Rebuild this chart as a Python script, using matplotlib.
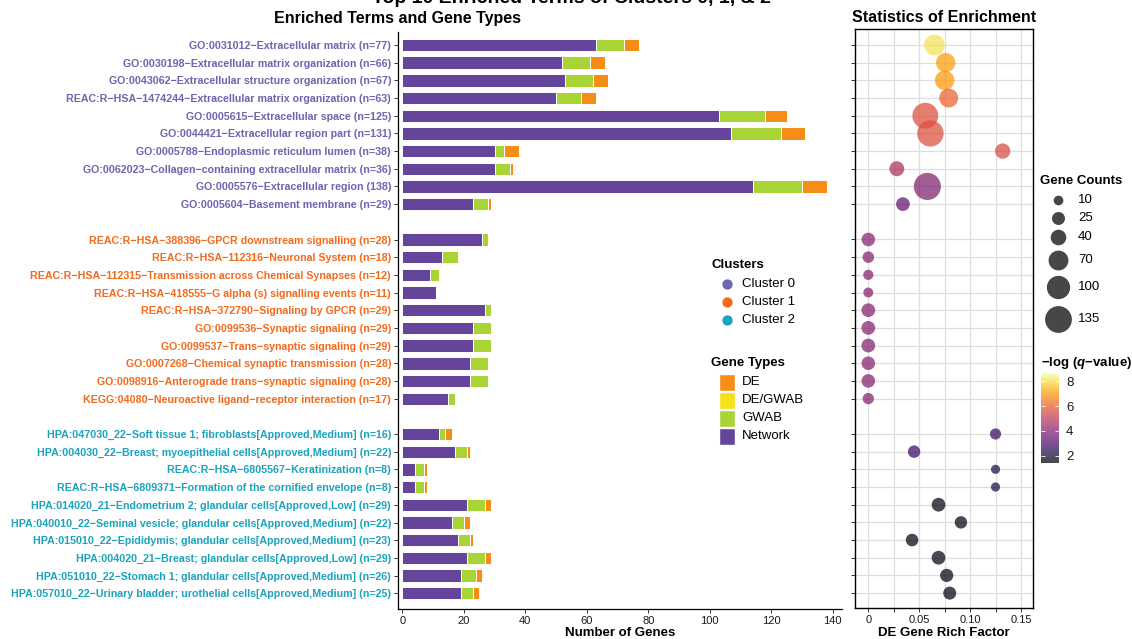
import matplotlib
matplotlib.use('Agg')
import matplotlib.pyplot as plt
import numpy as np
from matplotlib.colors import ListedColormap, Normalize
from matplotlib.cm import ScalarMappable
from matplotlib.patches import Rectangle

plt.rcParams['font.family'] = ['Liberation Sans', 'DejaVu Sans']
plt.rcParams['mathtext.fontset'] = 'custom'
plt.rcParams['mathtext.it'] = 'Liberation Sans:italic:bold'
plt.rcParams['mathtext.rm'] = 'Liberation Sans:bold'

# ---- data ----
terms0 = ['GO:0031012−Extracellular matrix (n=77)',
          'GO:0030198−Extracellular matrix organization (n=66)',
          'GO:0043062−Extracellular structure organization (n=67)',
          'REAC:R−HSA−1474244−Extracellular matrix organization (n=63)',
          'GO:0005615−Extracellular space (n=125)',
          'GO:0044421−Extracellular region part (n=131)',
          'GO:0005788−Endoplasmic reticulum lumen (n=38)',
          'GO:0062023−Collagen−containing extracellular matrix (n=36)',
          'GO:0005576−Extracellular region (138)',
          'GO:0005604−Basement membrane (n=29)']
terms1 = ['REAC:R−HSA−388396−GPCR downstream signalling (n=28)',
          'REAC:R−HSA−112316−Neuronal System (n=18)',
          'REAC:R−HSA−112315−Transmission across Chemical Synapses (n=12)',
          'REAC:R−HSA−418555−G alpha (s) signalling events (n=11)',
          'REAC:R−HSA−372790−Signaling by GPCR (n=29)',
          'GO:0099536−Synaptic signaling (n=29)',
          'GO:0099537−Trans−synaptic signaling (n=29)',
          'GO:0007268−Chemical synaptic transmission (n=28)',
          'GO:0098916−Anterograde trans−synaptic signaling (n=28)',
          'KEGG:04080−Neuroactive ligand−receptor interaction (n=17)']
terms2 = ['HPA:047030_22−Soft tissue 1; fibroblasts[Approved,Medium] (n=16)',
          'HPA:004030_22−Breast; myoepithelial cells[Approved,Medium] (n=22)',
          'REAC:R−HSA−6805567−Keratinization (n=8)',
          'REAC:R−HSA−6809371−Formation of the cornified envelope (n=8)',
          'HPA:014020_21−Endometrium 2; glandular cells[Approved,Low] (n=29)',
          'HPA:040010_22−Seminal vesicle; glandular cells[Approved,Medium] (n=22)',
          'HPA:015010_22−Epididymis; glandular cells[Approved,Medium] (n=23)',
          'HPA:004020_21−Breast; glandular cells[Approved,Low] (n=29)',
          'HPA:051010_22−Stomach 1; glandular cells[Approved,Medium] (n=26)',
          'HPA:057010_22−Urinary bladder; urothelial cells[Approved,Medium] (n=25)']

network0 = [63, 52, 53, 50, 103, 107, 30, 30, 114, 23]
gwab0 = [9, 9, 9, 8, 15, 16, 3, 5, 16, 5]
degwab0 = [0, 0, 0, 0, 0, 0, 0, 0, 0, 0]
de0 = [5, 5, 5, 5, 7, 8, 5, 1, 8, 1]

network1 = [26, 13, 9, 11, 27, 23, 23, 22, 22, 15]
gwab1 = [2, 5, 3, 0, 2, 6, 6, 6, 6, 2]
degwab1 = [0, 0, 0, 0, 0, 0, 0, 0, 0, 0]
de1 = [0, 0, 0, 0, 0, 0, 0, 0, 0, 0]

network2 = [12, 17, 4, 4, 21, 16, 18, 21, 19, 19]
gwab2 = [2, 4, 3, 3, 6, 4, 4, 6, 5, 4]
degwab2 = [0, 0, 0, 0, 0, 0, 0, 0, 0, 0]
de2 = [2, 1, 1, 1, 2, 2, 1, 2, 2, 2]

counts0 = [77, 66, 67, 63, 125, 131, 38, 36, 138, 29]
counts1 = [28, 18, 12, 11, 29, 29, 29, 28, 28, 17]
counts2 = [16, 22, 8, 8, 29, 22, 23, 29, 26, 25]

rich0 = [0.065, 0.076, 0.075, 0.079, 0.056, 0.061, 0.132, 0.028, 0.058, 0.034]
rich1 = [0, 0, 0, 0, 0, 0, 0, 0, 0, 0]
rich2 = [0.125, 0.045, 0.125, 0.125, 0.069, 0.091, 0.043, 0.069, 0.077, 0.080]

logq0 = [8.1, 7.1, 7.0, 6.1, 5.7, 5.7, 5.6, 4.7, 3.9, 3.4]
logq1 = [4.0, 4.0, 4.0, 4.0, 4.0, 4.0, 4.0, 4.0, 4.0, 4.0]
logq2 = [2.7, 2.7, 2.3, 2.3, 1.6, 1.6, 1.6, 1.6, 1.6, 1.6]

clusters = ['Cluster 0', 'Cluster 1', 'Cluster 2']
gene_types = ['DE', 'DE/GWAB', 'GWAB', 'Network']
size_breaks = [10, 25, 40, 70, 100, 135]
cbar_ticks = [2, 4, 6, 8]

# ---- styling ----
cluster_cols = ['#6b66b0', '#f46a1c', '#1aa3be']
type_cols = {'DE': '#f68d17', 'DE/GWAB': '#f5e11a', 'GWAB': '#a8d435', 'Network': '#65459b'}
W, H = 1132, 639


def fx(px):
    return px / W


def fy(py):
    return 1 - py / H


def dot_size(n):
    return 2.07 * (11 + 1.25 * np.asarray(n, dtype=float))


fig = plt.figure(figsize=(11.32, 6.39), dpi=100)

terms = terms0 + terms1 + terms2
network = network0 + network1 + network2
gwab = gwab0 + gwab1 + gwab2
degwab = degwab0 + degwab1 + degwab2
de = de0 + de1 + de2
counts = counts0 + counts1 + counts2
rich = rich0 + rich1 + rich2
logq = logq0 + logq1 + logq2
pos = [k * 11 + i for k in range(3) for i in range(10)]
lab_cols = [cluster_cols[k] for k in range(3) for i in range(10)]

# bars
ax = fig.add_axes([fx(398), fy(609), fx(842) - fx(398), fy(32) - fy(609)])
left = np.zeros(len(pos))
for name, vals in [('Network', network), ('GWAB', gwab), ('DE/GWAB', degwab), ('DE', de)]:
    vals = np.array(vals, dtype=float)
    m = vals > 0
    ax.barh(np.array(pos)[m], vals[m], left=left[m], height=0.7,
            color=type_cols[name], edgecolor='white', linewidth=0.7)
    left = left + vals

ax.set_xlim(-1.4, 143)
ax.set_ylim(31.89, -0.735)
ax.set_yticks(pos)
ax.set_yticklabels(terms, fontsize=7.7, fontweight='bold')
for t, c in zip(ax.get_yticklabels(), lab_cols):
    t.set_color(c)
ax.set_xticks(np.arange(0, 141, 20))
ax.tick_params(axis='x', labelsize=8, length=3, width=0.7, color='#333333', labelcolor='#1a1a1a', pad=2)
ax.tick_params(axis='y', length=3, width=0.7, color='#333333', pad=2)
ax.spines['top'].set_visible(False)
ax.spines['right'].set_visible(False)
ax.spines['left'].set_linewidth(0.9)
ax.spines['bottom'].set_linewidth(0.9)
ax.set_xlabel('Number of Genes', fontsize=9.5, fontweight='bold', labelpad=1)

# dots
ax2 = fig.add_axes([fx(855.3), fy(608.3), fx(1033.3) - fx(855.3), fy(29.3) - fy(608.3)])
norm = Normalize(1.4, 8.67)
ax2.scatter(rich, pos, s=dot_size(counts), c=logq, cmap='inferno', norm=norm,
            alpha=0.72, linewidths=0, zorder=3)
ax2.set_xlim(-0.01277, 0.1621)
ax2.set_ylim(31.86, -0.887)
ax2.set_xticks([0, 0.025, 0.05, 0.075, 0.10, 0.125, 0.15])
ax2.set_xticklabels(['0', '', '0.05', '', '0.10', '', '0.15'])
ax2.set_yticks(pos)
ax2.set_yticklabels([])
ax2.grid(True, color='#dedede', linewidth=0.9)
ax2.set_axisbelow(True)
ax2.tick_params(axis='x', labelsize=8, length=3, width=0.7, color='#333333', labelcolor='#1a1a1a', pad=2)
ax2.tick_params(axis='y', length=3, width=0.7, color='#333333')
for s in ax2.spines.values():
    s.set_linewidth(1.0)
ax2.set_xlabel('DE Gene Rich Factor', fontsize=9.5, fontweight='bold', labelpad=1)

# titles
fig.text(fx(571), fy(3), 'Top 10 Enriched Terms of Clusters 0, 1, & 2', fontsize=14,
         fontweight='bold', ha='center', va='baseline')
fig.text(fx(397), fy(18), 'Enriched Terms and Gene Types', fontsize=11.5,
         fontweight='bold', ha='center', va='center')
fig.text(fx(944), fy(17), 'Statistics of Enrichment', fontsize=11.5,
         fontweight='bold', ha='center', va='center')

# overlay for legends (pixel coordinates)
ov = fig.add_axes([0, 0, 1, 1], zorder=5)
ov.set_xlim(0, W)
ov.set_ylim(H, 0)
ov.axis('off')

ov.text(711, 265, 'Clusters', fontsize=9.5, fontweight='bold', va='center')
for i, (c, col) in enumerate(zip(clusters, cluster_cols)):
    y = 284 + 18 * i
    ov.scatter([727], [y], s=55, color=col, linewidths=0)
    ov.text(742, y, c, fontsize=9.5, va='center')

ov.text(711, 363, 'Gene Types', fontsize=9.5, fontweight='bold', va='center')
for i, g in enumerate(gene_types):
    y = 382 + 18 * i
    ov.add_patch(Rectangle((719, y - 8.5), 16, 17, facecolor=type_cols[g],
                           edgecolor='white', linewidth=1))
    ov.text(742, y, g, fontsize=9.5, va='center')

ov.text(1040, 181, 'Gene Counts', fontsize=9.5, fontweight='bold', va='center')
size_y = [200, 218, 237, 260, 287, 319]
for v, y in zip(size_breaks, size_y):
    ov.scatter([1058], [y], s=dot_size([v]), color='#333333', alpha=0.9, linewidths=0)
    ov.text(1078, y, str(v), fontsize=9.5, va='center')

ov.text(1041, 363, '−log ($\\mathit{q}$−value)', fontsize=9.5, fontweight='bold', va='center')

# colorbar
base = plt.get_cmap('inferno')(np.linspace(0, 1, 256))
blend = base.copy()
blend[:, :3] = 0.72 * base[:, :3] + 0.28
cax = fig.add_axes([fx(1041), fy(463), fx(1059) - fx(1041), fy(373) - fy(463)])
cb = fig.colorbar(ScalarMappable(norm=norm, cmap=ListedColormap(blend)), cax=cax)
cb.outline.set_visible(False)
cb.set_ticks(cbar_ticks)
cax.yaxis.set_ticks_position('both')
cax.tick_params(axis='y', direction='in', length=3, width=0.6, color='white',
                labelsize=9.5, labelcolor='#1a1a1a', pad=5)

fig.savefig('out.png', dpi=100)
